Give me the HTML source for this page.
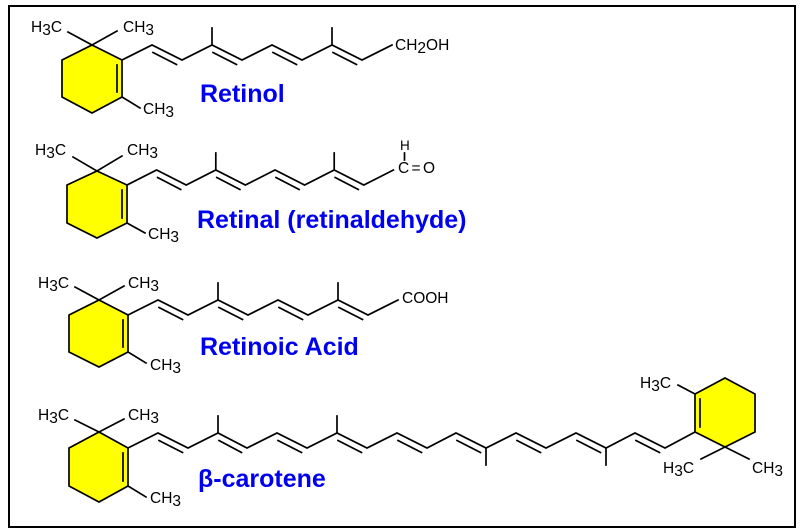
<!DOCTYPE html>
<html>
<head>
<meta charset="utf-8">
<style>
html,body{margin:0;padding:0;background:#fff;}
svg{display:block;}
.b{stroke:#000;stroke-width:1.7;fill:none;stroke-linecap:square;}
.t{font-family:"Liberation Sans",Arial,sans-serif;font-size:15.5px;fill:#000;}
.lbl{font-family:"Liberation Sans",Arial,sans-serif;font-size:25px;font-weight:bold;fill:#0000f0;}
.ring{fill:#ffff00;stroke:#000;stroke-width:1.7;}
</style>
</head>
<body>
<svg width="812" height="531" viewBox="0 0 812 531" xmlns="http://www.w3.org/2000/svg">
<rect x="0" y="0" width="812" height="531" fill="#fff"/>
<rect x="9" y="6" width="786" height="521" fill="none" stroke="#000" stroke-width="2"/>

<!-- ========== RETINOL ========== -->
<polygon class="ring" points="92,45 122,60 122,97 92,113 62,97 62,60"/>
<line class="b" x1="117" y1="65" x2="117" y2="92"/>
<line class="b" x1="92" y1="45" x2="68" y2="32"/>
<line class="b" x1="92" y1="45" x2="117" y2="31"/>
<line class="b" x1="122" y1="97" x2="140" y2="108"/>
<polyline class="b" points="122,60 152,45 182,60 212,45 242,60 272,45 302,60 332,45 362,60 392,45"/>
<line class="b" x1="212" y1="45" x2="212" y2="28"/>
<line class="b" x1="332" y1="45" x2="332" y2="28"/>
<line class="b" x1="153" y1="52.5" x2="176.5" y2="64.5"/>
<line class="b" x1="213" y1="52.5" x2="236.5" y2="64.5"/>
<line class="b" x1="273" y1="52.5" x2="296.5" y2="64.5"/>
<line class="b" x1="333" y1="52.5" x2="356.5" y2="64.5"/>
<text class="t" x="31" y="32">H<tspan dy="3">3</tspan><tspan dy="-3">C</tspan></text>
<text class="t" x="123" y="32">CH<tspan dy="3">3</tspan></text>
<text class="t" x="143" y="114">CH<tspan dy="3">3</tspan></text>
<text class="t" x="395" y="50">CH<tspan dy="3">2</tspan><tspan dy="-3">OH</tspan></text>
<text class="lbl" x="200" y="102">Retinol</text>

<!-- ========== RETINAL ========== -->
<polygon class="ring" points="97,171 127,185 127,223 97,238 67,223 67,185"/>
<line class="b" x1="122" y1="190" x2="122" y2="218"/>
<line class="b" x1="97" y1="171" x2="73" y2="157"/>
<line class="b" x1="97" y1="171" x2="122" y2="156"/>
<line class="b" x1="127" y1="223" x2="145" y2="233"/>
<polyline class="b" points="127,185 156.6,170 186.2,185 215.8,170 245.4,185 275,170 304.6,185 334.2,170 363.8,185 393.4,170"/>
<line class="b" x1="215.8" y1="170" x2="215.8" y2="153"/>
<line class="b" x1="334.2" y1="170" x2="334.2" y2="153"/>
<line class="b" x1="157.6" y1="177.5" x2="180.7" y2="189.5"/>
<line class="b" x1="216.8" y1="177.5" x2="239.9" y2="189.5"/>
<line class="b" x1="276" y1="177.5" x2="299.1" y2="189.5"/>
<line class="b" x1="335.2" y1="177.5" x2="358.3" y2="189.5"/>
<text class="t" x="35" y="155">H<tspan dy="3">3</tspan><tspan dy="-3">C</tspan></text>
<text class="t" x="127" y="155">CH<tspan dy="3">3</tspan></text>
<text class="t" x="148" y="239">CH<tspan dy="3">3</tspan></text>
<text class="t" x="400" y="150" style="font-size:13.5px">H</text>
<line class="b" x1="404.5" y1="153" x2="404.5" y2="160"/>
<text class="t" x="398" y="173" textLength="37" lengthAdjust="spacing">C=O</text>
<text class="lbl" x="197" y="228">Retinal (retinaldehyde)</text>

<!-- ========== RETINOIC ACID ========== -->
<polygon class="ring" points="99,300 128,315 128,352 99,367 69,352 69,315"/>
<line class="b" x1="123" y1="320" x2="123" y2="347"/>
<line class="b" x1="99" y1="300" x2="75" y2="287"/>
<line class="b" x1="99" y1="300" x2="124" y2="286"/>
<line class="b" x1="128" y1="352" x2="146" y2="363"/>
<polyline class="b" points="128,315 158,300 188,315 218,300 248,315 278,300 308,315 338,300 368,315 398,300"/>
<line class="b" x1="218" y1="300" x2="218" y2="283"/>
<line class="b" x1="338" y1="300" x2="338" y2="283"/>
<line class="b" x1="159" y1="307.5" x2="182.5" y2="319.5"/>
<line class="b" x1="219" y1="307.5" x2="242.5" y2="319.5"/>
<line class="b" x1="279" y1="307.5" x2="302.5" y2="319.5"/>
<line class="b" x1="339" y1="307.5" x2="362.5" y2="319.5"/>
<text class="t" x="38" y="288">H<tspan dy="3">3</tspan><tspan dy="-3">C</tspan></text>
<text class="t" x="128" y="288">CH<tspan dy="3">3</tspan></text>
<text class="t" x="150" y="370">CH<tspan dy="3">3</tspan></text>
<text class="t" x="402" y="303">COOH</text>
<text class="lbl" x="200" y="355">Retinoic Acid</text>

<!-- ========== BETA-CAROTENE ========== -->
<polygon class="ring" points="99,432 128,448 128,486 99,502 69,486 69,448"/>
<line class="b" x1="123" y1="453" x2="123" y2="481"/>
<line class="b" x1="99" y1="432" x2="75" y2="420"/>
<line class="b" x1="99" y1="432" x2="124" y2="419"/>
<line class="b" x1="128" y1="486" x2="146" y2="497"/>
<polyline class="b" points="128,448 158,433 188,448 218,433 247,448 277,433 307,448 337,433 367,448 397,433 427,448 456,433 486,448 516,433 546,448 576,433 606,448 635,433 665,448 695,432"/>
<line class="b" x1="218" y1="433" x2="218" y2="416"/>
<line class="b" x1="337" y1="433" x2="337" y2="416"/>
<line class="b" x1="486" y1="448" x2="486" y2="465"/>
<line class="b" x1="606" y1="448" x2="606" y2="465"/>
<line class="b" x1="159" y1="440.5" x2="182.5" y2="452.5"/>
<line class="b" x1="219" y1="440.5" x2="241.5" y2="452.5"/>
<line class="b" x1="278" y1="440.5" x2="301.5" y2="452.5"/>
<line class="b" x1="338" y1="440.5" x2="361.5" y2="452.5"/>
<line class="b" x1="398" y1="440.5" x2="421.5" y2="452.5"/>
<line class="b" x1="457" y1="440.5" x2="480.5" y2="452.5"/>
<line class="b" x1="517" y1="440.5" x2="540.5" y2="452.5"/>
<line class="b" x1="577" y1="440.5" x2="600.5" y2="452.5"/>
<line class="b" x1="636" y1="440.5" x2="659.5" y2="452.5"/>
<polygon class="ring" points="695,432 695,394 725,378 755,394 755,432 725,447"/>
<line class="b" x1="700" y1="399" x2="700" y2="427"/>
<line class="b" x1="695" y1="394" x2="678" y2="385"/>
<line class="b" x1="725" y1="447" x2="701" y2="459"/>
<line class="b" x1="725" y1="447" x2="749" y2="459"/>
<text class="t" x="38" y="420">H<tspan dy="3">3</tspan><tspan dy="-3">C</tspan></text>
<text class="t" x="128" y="420">CH<tspan dy="3">3</tspan></text>
<text class="t" x="150" y="503">CH<tspan dy="3">3</tspan></text>
<text class="t" x="640" y="388">H<tspan dy="3">3</tspan><tspan dy="-3">C</tspan></text>
<text class="t" x="663" y="473">H<tspan dy="3">3</tspan><tspan dy="-3">C</tspan></text>
<text class="t" x="752" y="473">CH<tspan dy="3">3</tspan></text>
<text class="lbl" x="198" y="487">β-carotene</text>
</svg>
</body>
</html>
